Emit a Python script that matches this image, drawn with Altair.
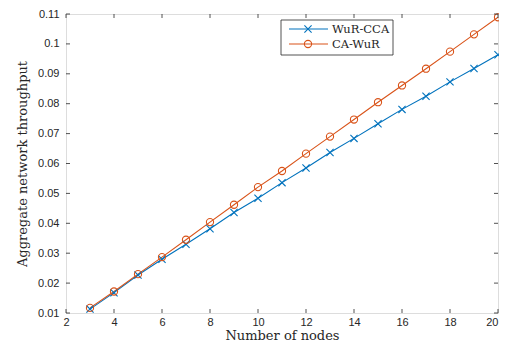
import altair as alt
import pandas as pd

nodes = list(range(3, 21))
wur_cca = [0.0113, 0.0168, 0.0227, 0.0280, 0.0330, 0.0382, 0.0436, 0.0484, 0.0536,
           0.0585, 0.0637, 0.0684, 0.0733, 0.0781, 0.0825, 0.0873, 0.0918, 0.0964]
ca_wur = [0.0117, 0.0172, 0.0230, 0.0287, 0.0345, 0.0404, 0.0462, 0.0521, 0.0575,
          0.0633, 0.0690, 0.0747, 0.0805, 0.0861, 0.0917, 0.0974, 0.1032, 0.1089]
series_names = ["WuR-CCA", "CA-WuR"]
colors = ["#0072BD", "#D95319"]
x_ticks = [2, 4, 6, 8, 10, 12, 14, 16, 18, 20]
y_ticks = [0.01, 0.02, 0.03, 0.04, 0.05, 0.06, 0.07, 0.08, 0.09, 0.1, 0.11]

W, H = 432, 299
AX = "#262626"
XPATH = "M-1,-1L1,1M-1,1L1,-1"

df = pd.DataFrame({
    "nodes": nodes * 2,
    "value": wur_cca + ca_wur,
    "series": [series_names[0]] * len(nodes) + [series_names[1]] * len(nodes),
})

xs = alt.Scale(domain=[2, 20], nice=False, zero=False)
ys = alt.Scale(domain=[0.01, 0.11], nice=False, zero=False)
cs = alt.Scale(domain=series_names, range=colors)
ss = alt.Scale(domain=series_names, range=[XPATH, "circle"])

x_axis = alt.Axis(values=x_ticks, ticks=False, domain=False, grid=False,
                  labelOverlap=False, labelFlush=False,
                  labelAlign={"condition": {"test": "datum.value >= 20", "value": "right"},
                              "value": "center"},
                  labelFont="Liberation Sans", labelFontSize=11, labelColor=AX,
                  labelPadding=3, title="Number of nodes", titleFont="DejaVu Serif",
                  titleFontSize=13, titleFontWeight="normal", titleColor=AX,
                  titlePadding=2)
y_axis = alt.Axis(values=y_ticks, ticks=False, domain=False, grid=False,
                  labelOverlap=False, labelFlush=False,
                  labelExpr="format(datum.value, '.2~f')",
                  labelFont="Liberation Sans", labelFontSize=11, labelColor=AX,
                  labelPadding=7, title="Aggregate network throughput",
                  titleFont="DejaVu Serif", titleFontSize=13,
                  titleFontWeight="normal", titleColor=AX, titlePadding=8)

base = alt.Chart(df)
lines = base.mark_line(strokeWidth=1.1).encode(
    x=alt.X("nodes:Q", scale=xs, axis=x_axis),
    y=alt.Y("value:Q", scale=ys, axis=y_axis),
    color=alt.Color("series:N", scale=cs, legend=None),
    detail="series:N",
)
points = base.mark_point(filled=False, strokeWidth=1.1, size=52, opacity=1).encode(
    x=alt.X("nodes:Q", scale=xs, axis=x_axis),
    y=alt.Y("value:Q", scale=ys, axis=y_axis),
    color=alt.Color("series:N", scale=cs, legend=None),
    shape=alt.Shape("series:N", scale=ss, legend=None),
)

xt = pd.DataFrame({"t": x_ticks})
yt = pd.DataFrame({"t": y_ticks})
tick_len = 4
xb = alt.Chart(xt).mark_rule(color=AX, strokeWidth=0.8).encode(
    x=alt.X("t:Q", scale=xs, axis=x_axis), y=alt.value(H), y2=alt.value(H - tick_len))
xtp = alt.Chart(xt).mark_rule(color=AX, strokeWidth=0.8).encode(
    x=alt.X("t:Q", scale=xs, axis=x_axis), y=alt.value(0), y2=alt.value(tick_len))
yl = alt.Chart(yt).mark_rule(color=AX, strokeWidth=0.8).encode(
    y=alt.Y("t:Q", scale=ys, axis=y_axis), x=alt.value(0), x2=alt.value(tick_len))
yr = alt.Chart(yt).mark_rule(color=AX, strokeWidth=0.8).encode(
    y=alt.Y("t:Q", scale=ys, axis=y_axis), x=alt.value(W), x2=alt.value(W - tick_len))

# legend
leg = pd.DataFrame({"series": series_names})
lx0, lx1, ly0, ly1 = 215, 327, 6, 41
rows = [15, 30]
legend_layers = [
    alt.Chart(leg.iloc[:1]).mark_rect(fill="white", stroke=AX, strokeWidth=0.8).encode(
        x=alt.value(lx0), x2=alt.value(lx1), y=alt.value(ly0), y2=alt.value(ly1))
]
for i, name in enumerate(series_names):
    d = leg.iloc[i:i + 1]
    legend_layers.append(alt.Chart(d).mark_rule(color=colors[i], strokeWidth=1.1).encode(
        x=alt.value(223), x2=alt.value(262), y=alt.value(rows[i])))
    legend_layers.append(alt.Chart(d).mark_point(filled=False, strokeWidth=1.1, size=52,
                                                 opacity=1, color=colors[i],
                                                 shape=XPATH if i == 0 else "circle").encode(
        x=alt.value(242), y=alt.value(rows[i])))
    legend_layers.append(alt.Chart(d).mark_text(align="left", baseline="middle",
                                                font="DejaVu Serif", fontSize=11.5,
                                                color=AX).encode(
        x=alt.value(266), y=alt.value(rows[i] + 0.5), text="series:N"))

chart = alt.layer(lines, points, xb, xtp, yl, yr, *legend_layers).properties(
    width=W, height=H,
    autosize=alt.AutoSizeParams(type="none"),
    padding={"left": 58, "top": 6, "right": 1, "bottom": 33},
).configure_view(stroke=AX, strokeWidth=1).configure(background="white")

chart.save("out.html", embed_options={"renderer": "svg", "actions": False})
